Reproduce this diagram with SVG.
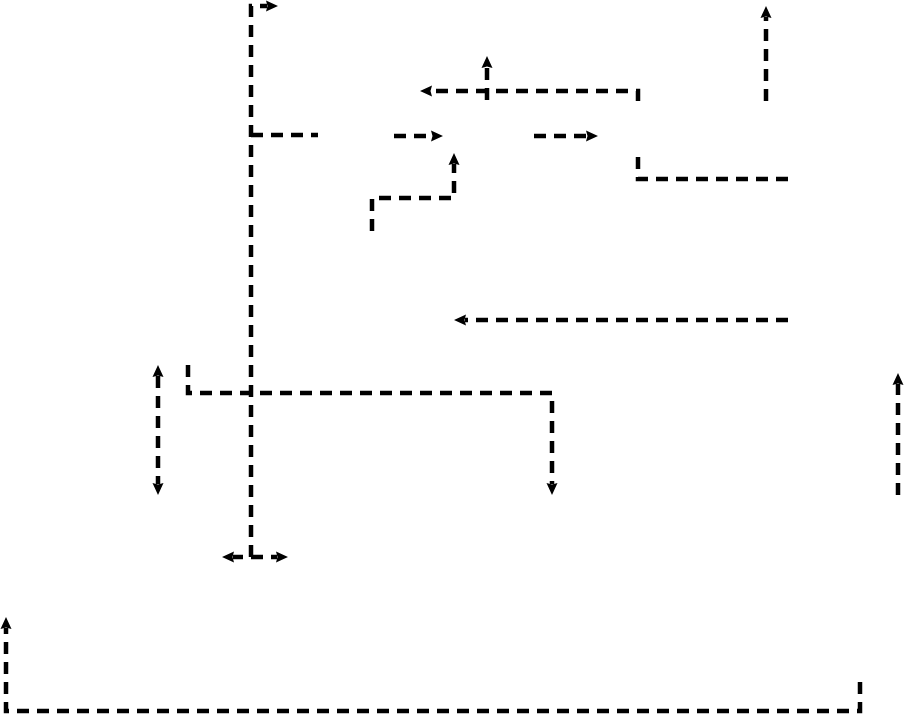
<svg xmlns="http://www.w3.org/2000/svg" width="904" height="715" viewBox="0 0 904 715">
  <style>
    .c { fill: none; stroke: #000; stroke-width: 4.5; stroke-dasharray: 12 8; marker-end: url(#ah); }
    .n { marker-end: none; }
    .b { marker-start: url(#ah); }
  </style>
  <defs>
    <marker id="ah" markerWidth="15" markerHeight="13" refX="1" refY="6" orient="auto-start-reverse" markerUnits="userSpaceOnUse" viewBox="0 0 15 12">
      <path d="M0,0.5 L12,6 L0,11.5 L1.5,6 z" fill="#000"/>
    </marker>
  </defs>
  <rect width="904" height="715" fill="#fff"/>
  <g id="connectors">
    <path class="c" d="M251 557 L251 6 L267 6"/>
    <path class="c n" d="M251 135 L318 135"/>
    <path class="c" d="M251 557 L277 557"/>
    <path class="c" d="M243 557 L233 557"/>
    <path class="c" d="M394 136 L432 136"/>
    <path class="c" d="M534 136 L587 136"/>
    <path class="c" d="M638 101 L638 91 L431 91"/>
    <path class="c" d="M487 100 L487 67"/>
    <path class="c n" d="M788 179 L638 179 L638 152"/>
    <path class="c" d="M766 101 L766 17"/>
    <path class="c" d="M372 231 L372 198 L454 198 L454 164"/>
    <path class="c" d="M788 320 L465 320"/>
    <path class="c" d="M188 365 L188 393 L552 393 L552 484"/>
    <path class="c b" d="M158 376 L158 484"/>
    <path class="c" d="M898 495 L898 384"/>
    <path class="c" d="M860 682 L860 711 L6 711 L6 628"/>
  </g>
</svg>
